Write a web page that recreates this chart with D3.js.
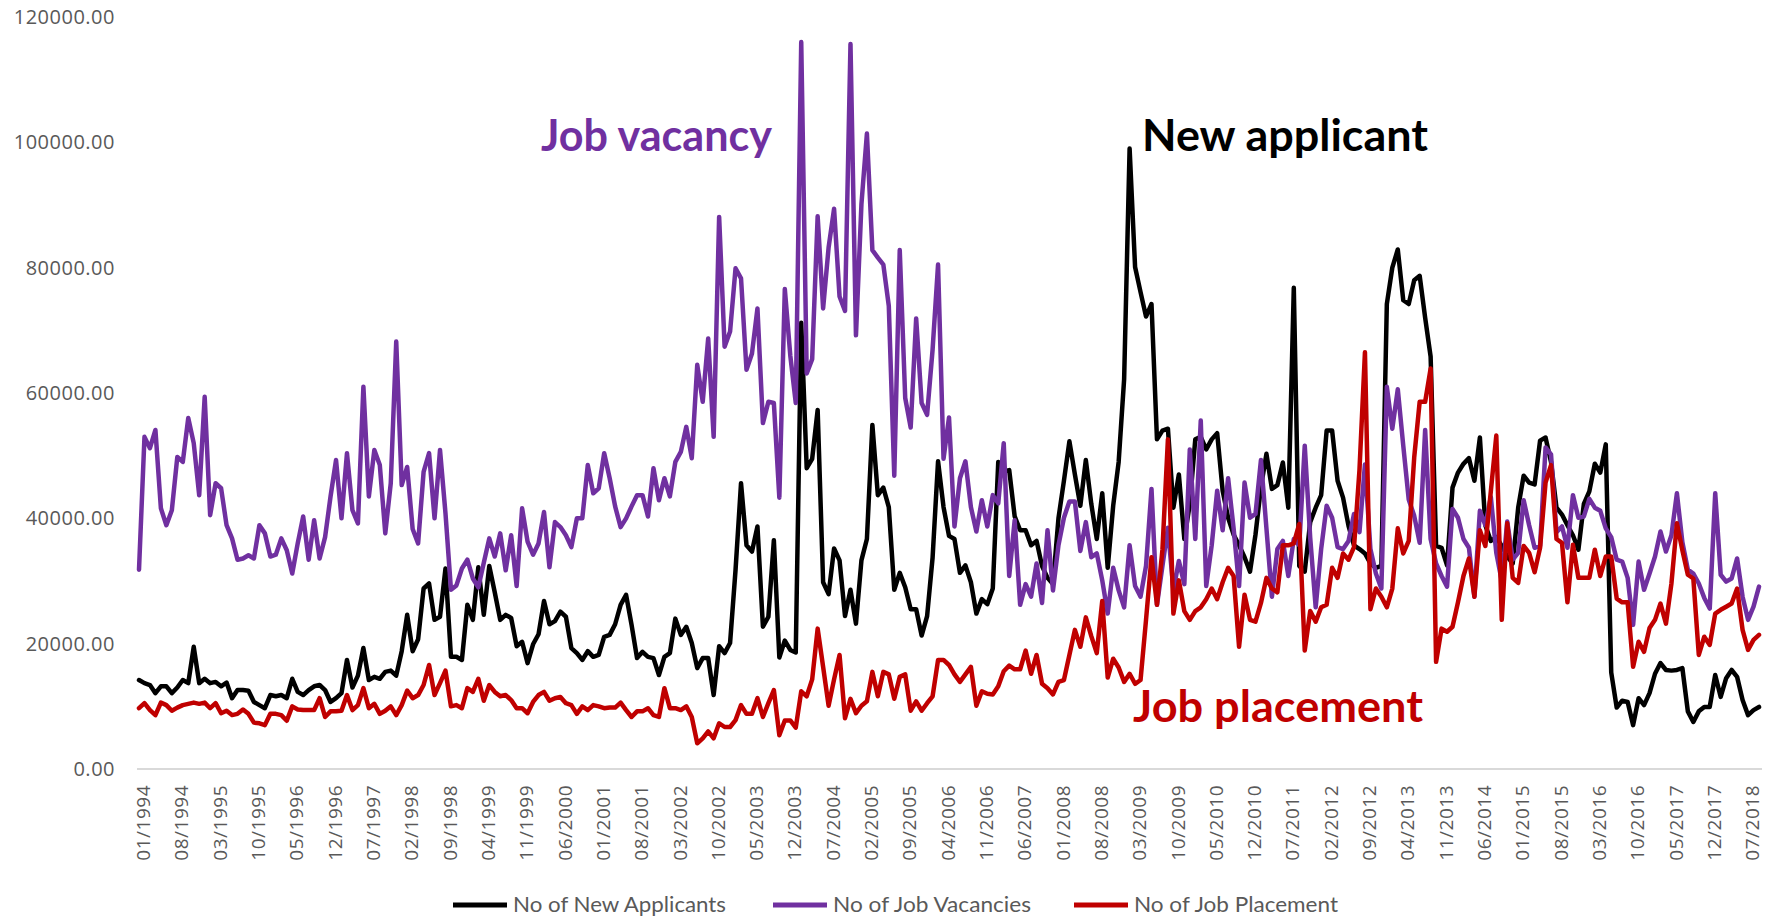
<!DOCTYPE html>
<html><head><meta charset="utf-8">
<script src="https://cdn.jsdelivr.net/npm/d3@7"></script>
<style>body{margin:0;background:#fff}</style>
</head><body><svg id="c" width="1771" height="916"></svg>
<script>
// Months: 01/1994 .. 09/2018
const startYear = 1994;
const monthCount = 297;
const months = d3.range(monthCount).map(i => String(i % 12 + 1).padStart(2, '0') + '/' + (startYear + Math.floor(i / 12)));

const tickLabels = ["01/1994","08/1994","03/1995","10/1995","05/1996","12/1996","07/1997","02/1998","09/1998","04/1999","11/1999","06/2000","01/2001","08/2001","03/2002","10/2002","05/2003","12/2003","07/2004","02/2005","09/2005","04/2006","11/2006","06/2007","01/2008","08/2008","03/2009","10/2009","05/2010","12/2010","07/2011","02/2012","09/2012","04/2013","11/2013","06/2014","01/2015","08/2015","03/2016","10/2016","05/2017","12/2017","07/2018"];
const yTicks = [0,20000,40000,60000,80000,100000,120000];

const applicants = [
14200,13700,13400,12100,13200,13200,12100,13000,14200,13700,
19500,13700,14400,13700,13900,13200,13800,11300,12600,12600,
12500,10700,10200,9700,11800,11600,11800,11300,14400,12300,
11800,12600,13200,13400,12600,10700,11300,12100,17400,13000,
14900,19300,14200,14700,14400,15500,15700,14900,18800,24600,
18800,20700,28800,29600,23800,24300,32000,17900,17900,17400,
26200,23800,32200,24600,32400,28200,23800,24600,24100,19600,
20300,16900,19900,21500,26800,23100,23600,25100,24300,19300,
18500,17400,18800,17900,18200,21100,21400,23100,26200,27800,
23000,17700,18700,17900,17700,15000,17900,18500,24000,21400,
22700,20100,16100,17700,17700,11800,19600,18500,20100,31800,
45600,35700,34700,38700,22700,24300,36500,17800,20500,19000,
18600,71200,48000,49500,57300,29800,27900,35200,33300,24400,
28600,23200,33300,36700,54900,43700,44900,41800,28600,31300,
29000,25500,25500,21300,24400,33700,49100,41800,37200,36700,
31300,32500,29800,24800,27100,26300,28800,49000,47500,47700,
40300,38100,38100,35700,36400,32400,30500,29500,40000,46000,
52300,47000,42000,49300,42300,36700,44000,32100,42000,49000,
62200,99000,80100,76100,72200,74200,52600,54000,54300,41700,
47000,36700,42300,52600,53000,51000,52600,53600,44400,40100,
37400,35700,33800,31500,37400,45000,50300,44700,45300,48900,
41700,76800,32400,31500,39400,41700,43700,54000,54000,46000,
43300,38800,35700,35100,34400,32800,32100,32400,74200,80000,
82900,74800,74200,78000,78700,72000,65800,35600,35300,32500,
44900,47300,48700,49600,46000,52900,38900,36400,37000,35600,
33900,32800,41700,46800,45700,45400,52400,52900,49000,41700,
40600,38900,37300,35000,42300,44300,48700,47300,51800,15400,
9800,10900,10700,7000,11300,10200,12100,15200,16900,15800,
15700,15800,16100,9200,7500,9200,9900,9900,15000,11500,
14500,15800,14700,11000,8600,9400,9900];

const vacancies = [
31800,53000,51200,54100,41600,38900,41300,49800,49000,56000,
52000,43700,59400,40500,45600,44800,38900,36800,33400,33600,
34100,33600,38900,37600,33900,34200,36800,34900,31200,36000,
40300,33400,39700,33600,37000,43500,49300,40000,50400,41300,
39200,61000,43500,50900,48500,37600,45600,68200,45300,48200,
38300,36000,47400,50400,40000,50900,40800,28600,29300,32000,
33400,30400,29000,32900,36800,33900,37600,31700,37300,29200,
41600,36300,34200,36000,41000,32200,39400,38600,37300,35400,
40000,40000,48500,44000,44800,50400,46400,41900,38600,40000,
41900,43700,43700,40300,48000,42900,46400,43500,49000,50600,
54600,49600,64500,58600,68700,53000,88100,67400,69800,79900,
78300,63700,66300,73500,55200,58600,58400,43300,76600,66000,
58400,116000,63100,65400,88200,73500,83200,89400,75400,73100,
115700,69200,90100,101400,82800,81600,80500,73900,46800,82800,
59200,54500,71900,58400,56500,66900,80500,49500,56100,38700,
46400,49100,41800,37900,42900,38700,43700,42400,52000,30800,
39700,26200,29500,27500,32800,26500,38100,28500,35700,40100,
42700,42700,34800,39400,33800,34400,30100,24800,32100,28500,
25800,35700,29200,27500,32400,44700,26200,32400,38500,28500,
33200,29500,51000,36700,55600,29200,35700,44400,38100,46400,
38400,29200,45700,40100,40700,49300,38400,27500,35100,36400,
30800,36700,35700,51600,36900,25800,35100,42000,40100,35400,
35100,36400,40700,37800,48600,35100,31200,28800,61000,54300,
60600,51600,43000,40400,36100,54100,36700,32800,30800,29100,
41500,40100,36700,35300,27500,41200,38900,43400,34500,30000,
39500,33400,34500,42900,38900,35300,35600,51300,50200,37800,
38700,35300,43700,40100,40300,43100,41700,41200,38400,37000,
33400,33100,30500,23000,33100,28600,31200,33900,37900,34700,
37300,44000,36200,31800,31200,29600,27300,25600,44000,31000,
29900,30400,33600,27500,23800,25900,29100];

const placements = [
9700,10500,9400,8600,10600,10200,9300,9800,10200,10400,
10600,10400,10600,9700,10500,8900,9300,8600,8800,9500,
8800,7400,7300,7000,8800,8800,8600,7700,10000,9500,
9400,9400,9400,11300,8300,9200,9200,9300,11800,9400,
10200,12900,9700,10400,8800,9300,10000,8600,10200,12500,
11300,11800,13400,16600,11800,13700,15700,10000,10200,9700,
12900,12300,14400,10900,13400,12300,11600,11800,11000,9700,
9700,8900,10700,11800,12300,10900,11300,11500,10500,10200,
8800,10000,9400,10200,10000,9700,9800,9800,10600,9400,
8300,9200,9200,9700,8600,8300,12900,9700,9700,9400,
10000,8300,4100,4900,6000,4900,7300,6700,6700,7800,
10200,8800,8800,11300,8300,10500,12600,5400,7750,7750,
6600,12400,11600,14300,22400,16300,10100,14300,18200,8100,
11200,8900,10100,10800,15500,11600,15500,15100,11200,14700,
15100,9300,10800,9300,10500,11600,17400,17400,16600,15100,
13900,15100,16300,10100,12400,12000,11900,13200,15600,16500,
15900,15900,18900,15200,18200,13600,12900,11900,13900,14200,
18200,22200,19500,24200,21200,18500,26800,14600,17600,16200,
13900,15200,13600,14200,23800,33800,26200,35000,52600,24800,
30100,25200,23800,25200,25800,27100,28800,27100,29800,32100,
30800,19500,27800,23800,23500,26500,30500,28800,28200,35700,
35700,36000,39100,18900,25200,23500,25800,26200,32100,30500,
34400,33400,35400,47700,66500,25500,28800,27500,25800,28800,
38400,34400,36400,49700,58600,58600,63900,17100,22400,21900,
22700,26600,30800,33600,27500,38100,35600,44300,53200,23800,
39200,30500,29700,35600,34500,31400,35300,45700,48500,36700,
36100,26600,35800,30500,30500,30500,35000,30800,33900,33900,
27200,26600,26600,16300,20300,18700,22500,23800,26400,23200,
29600,39200,34900,31000,30400,18200,21100,19800,24800,25400,
25900,26400,28800,22200,19000,20600,21400];

const seriesNames = ["No of New Applicants","No of Job Vacancies","No of Job Placement"];
const seriesColors = ["#000000","#7030A0","#C00000"];
const seriesData = [applicants, vacancies, placements];
const annotations = ["New applicant","Job vacancy","Job placement"];

const svg = d3.select('#c');
const x = d3.scalePoint().domain(months).range([139, 1759]);
const y = d3.scaleLinear().domain([0, 120000]).range([769, 17]);

// horizontal axis line
svg.append('line').attr('x1', 137).attr('x2', 1762).attr('y1', y(0)).attr('y2', y(0))
  .attr('stroke', '#d9d9d9').attr('stroke-width', 2);

// x axis labels
const gx = svg.append('g').attr('transform', `translate(0,${y(0)})`)
  .call(d3.axisBottom(x).tickValues(tickLabels).tickSize(0).tickPadding(0));
gx.select('.domain').remove();
gx.selectAll('text')
  .attr('transform', 'rotate(-90)')
  .attr('text-anchor', 'end')
  .attr('x', -16).attr('y', 4).attr('dy', '0.35em')
  .attr('fill', '#595959')
  .style('font-family', '"Open Sans", sans-serif')
  .style('font-size', '19px')
  .style('letter-spacing', '0.5px');

// y axis labels
const gy = svg.append('g').attr('transform', 'translate(115,0)')
  .call(d3.axisLeft(y).tickValues(yTicks).tickSize(0).tickPadding(0).tickFormat(d3.format('.2f')));
gy.select('.domain').remove();
gy.selectAll('text')
  .attr('fill', '#595959')
  .style('font-family', '"Open Sans", sans-serif')
  .style('font-size', '20px')
  .style('letter-spacing', '0.5px');

// lines
const line = d3.line().x((d, i) => x(months[i])).y(d => y(d));
seriesData.forEach((s, k) => {
  svg.append('path').datum(s).attr('d', line)
    .attr('fill', 'none').attr('stroke', seriesColors[k]).attr('stroke-width', 4.5)
    .attr('stroke-linejoin', 'round').attr('stroke-linecap', 'round');
});

// annotations
const annPos = [[1142, 151, 286], [541, 151, 231], [1133, 722, 290]];
annotations.forEach((t, k) => {
  svg.append('text').text(t)
    .attr('x', annPos[k][0]).attr('y', annPos[k][1])
    .attr('textLength', annPos[k][2]).attr('lengthAdjust', 'spacingAndGlyphs')
    .attr('fill', seriesColors[k])
    .style('font-family', 'Lato, "Open Sans", sans-serif')
    .style('font-weight', 'bold').style('font-size', '44px');
});

// legend
const legX = [453, 773, 1074];
const legW = [213, 198, 204];
seriesNames.forEach((n, k) => {
  svg.append('line').attr('x1', legX[k]).attr('x2', legX[k] + 54)
    .attr('y1', 905).attr('y2', 905).attr('stroke', seriesColors[k]).attr('stroke-width', 5);
  svg.append('text').text(n).attr('x', legX[k] + 60).attr('y', 905).attr('dy', '0.35em')
    .attr('textLength', legW[k]).attr('lengthAdjust', 'spacingAndGlyphs')
    .attr('fill', '#595959')
    .style('font-family', 'Lato, sans-serif').style('font-size', '21px');
});
</script></body></html>
